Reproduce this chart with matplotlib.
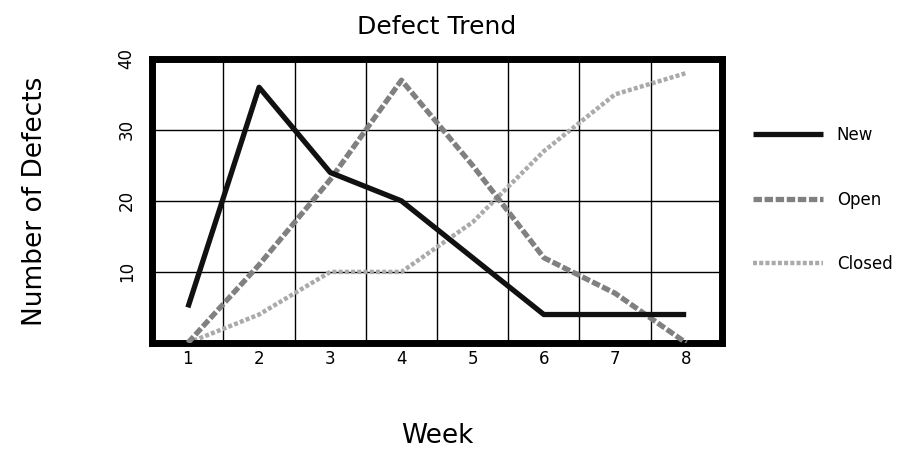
import numpy as np
import matplotlib
matplotlib.use("Agg")
import matplotlib.pyplot as plt

weeks = [1, 2, 3, 4, 5, 6, 7, 8]
new_defects = [5, 36, 24, 20, 12, 4, 4, 4]
open_defects = [0, 11, 23, 37, 25, 12, 7, 0]
closed_defects = [0, 4, 10, 10, 17, 27, 35, 38]
y_ticks = [10, 20, 30, 40]

plt.rcParams['font.family'] = ['DejaVu Sans']

fig = plt.figure(figsize=(9.23, 4.53), dpi=100)
ax = fig.add_axes([0.165, 0.243, 0.617, 0.627])

ax.plot(weeks, new_defects, color='#111111', lw=3.8, label='New',
        solid_capstyle='butt', zorder=4)
ax.plot(weeks, open_defects, color='#808080', lw=3.8, ls=(0, (1.6, 0.5)),
        label='Open', zorder=3)
ax.plot(weeks, closed_defects, color='#aaaaaa', lw=3.2, ls=(0, (0.9, 0.5)),
        label='Closed', zorder=2)

ax.set_xlim(0.5, 8.5)
ax.set_ylim(0, 40)
ax.set_xticks(weeks)
ax.set_yticks(y_ticks)
ax.set_xticks(np.arange(1.5, 8.5, 1.0), minor=True)
ax.tick_params(axis='both', which='both', length=0, labelsize=12)
ax.tick_params(axis='x', pad=5)
ax.tick_params(axis='y', pad=12)
for lbl in ax.get_yticklabels():
    lbl.set_rotation(90)
    lbl.set_va('center')

ax.grid(True, which='minor', axis='x', color='black', lw=1.0)
ax.grid(True, which='major', axis='y', color='black', lw=1.0)
for sp in ax.spines.values():
    sp.set_linewidth(5)
    sp.set_color('black')

ax.set_title('Defect Trend', fontsize=18, pad=18)
ax.set_xlabel('Week', fontsize=19, labelpad=40)
ax.set_ylabel('Number of Defects', fontsize=19, labelpad=50)

fig.legend(loc='upper left', bbox_to_anchor=(0.80, 0.755), frameon=False,
           fontsize=12, handlelength=4.2, labelspacing=2.8, handletextpad=0.8)

fig.savefig('out.png', dpi=100)
